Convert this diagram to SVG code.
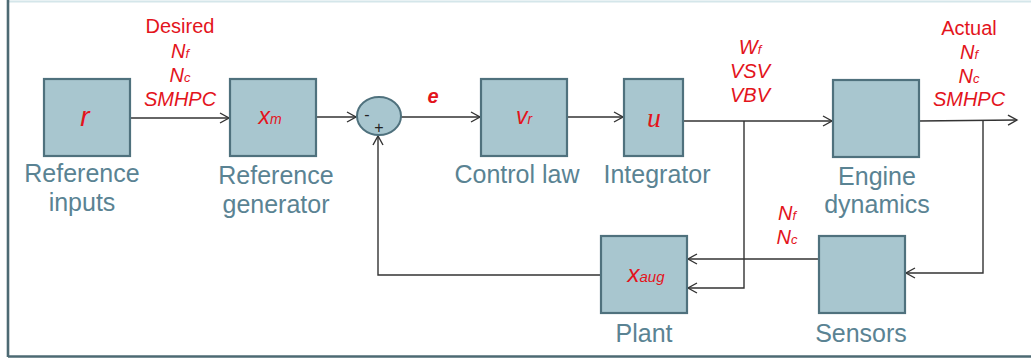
<svg xmlns="http://www.w3.org/2000/svg" width="1031" height="362" viewBox="0 0 1031 362">
<style>
.box{fill:#a8c6cf;stroke:#4f717d;stroke-width:2.2}
.lbl{font-family:"Liberation Sans",Arial,sans-serif;font-size:25px;fill:#5a8393;text-anchor:middle}
.red{font-family:"Liberation Sans",Arial,sans-serif;font-size:20px;fill:#e3141c;text-anchor:middle;font-style:italic}
.hdr{font-style:normal}
.sym{font-family:"Liberation Sans",Arial,sans-serif;fill:#e3141c;font-style:italic}
.ln{fill:none;stroke:#333;stroke-width:1.4}
.sgn{font-family:"Liberation Sans",Arial,sans-serif;font-size:16px;fill:#222;text-anchor:middle}
</style>
<defs>
<marker id="ah" markerWidth="12" markerHeight="12" refX="10" refY="6" orient="auto" markerUnits="userSpaceOnUse">
<path d="M1,1 L10,6 L1,11" fill="none" stroke="#333" stroke-width="1.4"/>
</marker>
</defs>
<rect x="0" y="0" width="1031" height="362" fill="#ffffff"/>
<line x1="8" y1="1.5" x2="1031" y2="1.5" stroke="#d4e6ea" stroke-width="2"/>
<line x1="8" y1="0" x2="8" y2="357" stroke="#4d6a73" stroke-width="2.6"/>
<line x1="8" y1="356.5" x2="1031" y2="356.5" stroke="#4d6a73" stroke-width="2.6"/>

<g id="connectors">
<line class="ln" x1="130" y1="118" x2="229" y2="118" marker-end="url(#ah)"/>
<line class="ln" x1="316" y1="117" x2="356" y2="117" marker-end="url(#ah)"/>
<line class="ln" x1="401" y1="117" x2="480" y2="117" marker-end="url(#ah)"/>
<line class="ln" x1="567" y1="117" x2="623" y2="117" marker-end="url(#ah)"/>
<line class="ln" x1="683" y1="121" x2="832" y2="121" marker-end="url(#ah)"/>
<polyline class="ln" points="919,121 1017,120" marker-end="url(#ah)"/>
<polyline class="ln" points="744,121 744,288 688,288" marker-end="url(#ah)"/>
<polyline class="ln" points="983,121 983,273 906,273" marker-end="url(#ah)"/>
<line class="ln" x1="819" y1="259" x2="688" y2="259" marker-end="url(#ah)"/>
<polyline class="ln" points="601,275 378,275 378,136" marker-end="url(#ah)"/>
</g>

<g id="ref-inputs">
<rect class="box" x="44" y="79" width="86" height="77"/>
<text class="sym" x="85" y="126" font-size="28" text-anchor="middle">r</text>
<text class="lbl" x="82" y="182">Reference</text>
<text class="lbl" x="82" y="211">inputs</text>
</g>

<g id="ref-generator">
<rect class="box" x="230" y="79" width="86" height="77"/>
<text class="sym" x="270" y="124" font-size="23" text-anchor="middle">x<tspan font-size="14">m</tspan></text>
<text class="lbl" x="276" y="184">Reference</text>
<text class="lbl" x="276" y="213">generator</text>
</g>

<g id="summing">
<ellipse cx="379" cy="116" rx="22" ry="19" fill="#a8c6cf" stroke="#4f717d" stroke-width="2"/>
<text class="sgn" x="367" y="120">-</text>
<text class="sgn" x="379" y="133">+</text>
</g>

<g id="control-law">
<rect class="box" x="481" y="79" width="86" height="77"/>
<text class="sym" x="524" y="124" font-size="23" text-anchor="middle">v<tspan font-size="14">r</tspan></text>
<text class="lbl" x="517" y="183">Control law</text>
</g>

<g id="integrator">
<rect class="box" x="624" y="79" width="59" height="77"/>
<text x="654" y="127" font-family="'Liberation Serif','Times New Roman',serif" font-style="italic" font-size="28" fill="#e3141c" text-anchor="middle">u</text>
<text class="lbl" x="657" y="183">Integrator</text>
</g>

<g id="engine">
<rect class="box" x="833" y="80" width="86" height="77"/>
<text class="lbl" x="877" y="185">Engine</text>
<text class="lbl" x="877" y="213">dynamics</text>
</g>

<g id="plant">
<rect class="box" x="601" y="236" width="86" height="77"/>
<text class="sym" x="646" y="282" font-size="24" text-anchor="middle">x<tspan font-size="15">aug</tspan></text>
<text class="lbl" x="644" y="342">Plant</text>
</g>

<g id="sensors">
<rect class="box" x="819" y="236" width="86" height="77"/>
<text class="lbl" x="861" y="342">Sensors</text>
</g>

<g id="labels">
<text class="red hdr" x="180" y="33">Desired</text>
<text class="red" x="180" y="58">N<tspan font-size="13">f</tspan></text>
<text class="red" x="180" y="82">N<tspan font-size="13">c</tspan></text>
<text class="red" x="180" y="106">SMHPC</text>

<text class="red" x="433" y="103" font-weight="bold" font-size="18">e</text>

<text class="red" x="750" y="54">W<tspan font-size="13">f</tspan></text>
<text class="red" x="750" y="78">VSV</text>
<text class="red" x="750" y="102">VBV</text>

<text class="red hdr" x="969" y="35">Actual</text>
<text class="red" x="969" y="59">N<tspan font-size="13">f</tspan></text>
<text class="red" x="969" y="83">N<tspan font-size="13">c</tspan></text>
<text class="red" x="969" y="106">SMHPC</text>

<text class="red" x="787" y="220">N<tspan font-size="13">f</tspan></text>
<text class="red" x="787" y="244">N<tspan font-size="13">c</tspan></text>
</g>
</svg>
